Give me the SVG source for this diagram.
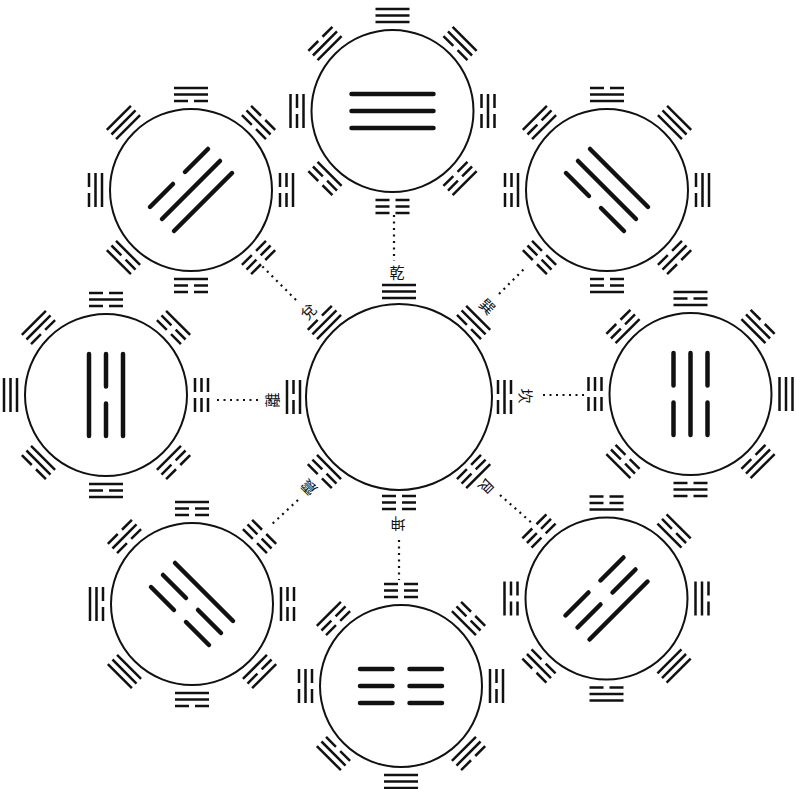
<svg xmlns="http://www.w3.org/2000/svg" xmlns:xlink="http://www.w3.org/1999/xlink" width="796" height="789" viewBox="0 0 796 789">
<style>
.c{fill:none;stroke:#111;stroke-width:2}
.t{fill:none;stroke:#111;stroke-width:2.5}
.b{fill:none;stroke:#111;stroke-width:4.5;stroke-linecap:round}
.d{fill:none;stroke:#111;stroke-width:2.2;stroke-dasharray:2 4.5}
.l{font-family:"Noto Sans CJK TC","Noto Sans CJK SC",sans-serif;font-size:15px;fill:#111;text-anchor:middle;dominant-baseline:central}
</style>
<defs>
<path id="qian" class="t" d="M-17 6.5H17M-17 0H17M-17 -6.5H17"/>
<path id="dui" class="t" d="M-17 6.5H17M-17 0H17M-17 -6.5H-3M3 -6.5H17"/>
<path id="li" class="t" d="M-17 6.5H17M-17 0H-3M3 0H17M-17 -6.5H17"/>
<path id="zhen" class="t" d="M-17 6.5H17M-17 0H-3M3 0H17M-17 -6.5H-3M3 -6.5H17"/>
<path id="xun" class="t" d="M-17 6.5H-3M3 6.5H17M-17 0H17M-17 -6.5H17"/>
<path id="kan" class="t" d="M-17 6.5H-3M3 6.5H17M-17 0H17M-17 -6.5H-3M3 -6.5H17"/>
<path id="gen" class="t" d="M-17 6.5H-3M3 6.5H17M-17 0H-3M3 0H17M-17 -6.5H17"/>
<path id="kun" class="t" d="M-17 6.5H-3M3 6.5H17M-17 0H-3M3 0H17M-17 -6.5H-3M3 -6.5H17"/>
<g id="ring">
<use href="#qian" transform="translate(0 -95.5)"/>
<use href="#xun" transform="rotate(45) translate(0 -95.5)"/>
<use href="#kan" transform="rotate(90) translate(0 -95.5)"/>
<use href="#gen" transform="rotate(135) translate(0 -95.5)"/>
<use href="#kun" transform="rotate(180) translate(0 -95.5)"/>
<use href="#zhen" transform="rotate(225) translate(0 -95.5)"/>
<use href="#li" transform="rotate(270) translate(0 -95.5)"/>
<use href="#dui" transform="rotate(315) translate(0 -95.5)"/>
</g>
</defs>
<rect width="796" height="789" fill="#fff"/>

<g id="connectors">
<line class="d" x1="394" y1="215" x2="394" y2="261"/>
<line class="d" x1="499" y1="294" x2="526" y2="267"/>
<line class="d" x1="543" y1="395" x2="584" y2="395"/>
<line class="d" x1="500" y1="495" x2="533" y2="524"/>
<line class="d" x1="399" y1="540" x2="399" y2="580"/>
<line class="d" x1="298" y1="500" x2="270" y2="526"/>
<line class="d" x1="258" y1="400" x2="213" y2="400"/>
<line class="d" x1="296" y1="300" x2="262" y2="266"/>
</g>

<g id="center">
<circle class="c" cx="399" cy="397" r="93"/>
<g transform="translate(399 397)">
<use href="#qian" transform="translate(0 -105.5)"/>
<use href="#xun" transform="rotate(45) translate(0 -105.5)"/>
<use href="#kan" transform="rotate(90) translate(0 -105.5)"/>
<use href="#gen" transform="rotate(135) translate(0 -105.5)"/>
<use href="#kun" transform="rotate(180) translate(0 -105.5)"/>
<use href="#zhen" transform="rotate(225) translate(0 -105.5)"/>
<use href="#li" transform="rotate(270) translate(0 -105.5)"/>
<use href="#dui" transform="rotate(315) translate(0 -105.5)"/>
</g>
<g id="labels">
<text class="l" transform="translate(397 271)">乾</text>
<text class="l" transform="translate(488 306) rotate(45)">巽</text>
<text class="l" transform="translate(526 396) rotate(90)">坎</text>
<text class="l" transform="translate(487 487) rotate(135)">艮</text>
<text class="l" transform="translate(398 524) rotate(180)">坤</text>
<text class="l" transform="translate(308 488) rotate(225)">震</text>
<text class="l" transform="translate(271 400) rotate(270)">離</text>
<text class="l" transform="translate(308 311) rotate(315)">兌</text>
</g>
</g>

<g id="node-qian">
<circle class="c" cx="392.5" cy="111" r="81"/>
<g transform="translate(392.5 111)">
<use href="#ring"/>
<path class="b" d="M-41 17H41M-41 0H41M-41 -17H41"/>
</g>
</g>

<g id="node-xun">
<circle class="c" cx="607" cy="190" r="81"/>
<g transform="translate(607 190) rotate(45)">
<use href="#ring"/>
<path class="b" d="M-41 17H-8.5M8.5 17H41M-41 0H41M-41 -17H41"/>
</g>
</g>

<g id="node-kan">
<circle class="c" cx="690.5" cy="394" r="81"/>
<g transform="translate(690.5 394) rotate(90)">
<use href="#ring"/>
<path class="b" d="M-41 17H-8.5M8.5 17H41M-41 0H41M-41 -17H-8.5M8.5 -17H41"/>
</g>
</g>

<g id="node-gen">
<circle class="c" cx="606.5" cy="598.5" r="81"/>
<g transform="translate(606.5 598.5) rotate(135)">
<use href="#ring"/>
<path class="b" d="M-41 17H-8.5M8.5 17H41M-41 0H-8.5M8.5 0H41M-41 -17H41"/>
</g>
</g>

<g id="node-kun">
<circle class="c" cx="401" cy="686" r="81"/>
<g transform="translate(401 686) rotate(180)">
<use href="#ring"/>
<path class="b" d="M-41 17H-8.5M8.5 17H41M-41 0H-8.5M8.5 0H41M-41 -17H-8.5M8.5 -17H41"/>
</g>
</g>

<g id="node-zhen">
<circle class="c" cx="192" cy="604" r="81"/>
<g transform="translate(192 604) rotate(225)">
<use href="#ring"/>
<path class="b" d="M-41 17H41M-41 0H-8.5M8.5 0H41M-41 -17H-8.5M8.5 -17H41"/>
</g>
</g>

<g id="node-li">
<circle class="c" cx="106" cy="395" r="81"/>
<g transform="translate(106 395) rotate(270)">
<use href="#ring"/>
<path class="b" d="M-41 17H41M-41 0H-8.5M8.5 0H41M-41 -17H41"/>
</g>
</g>

<g id="node-dui">
<circle class="c" cx="191" cy="190" r="81"/>
<g transform="translate(191 190) rotate(315)">
<use href="#ring"/>
<path class="b" d="M-41 17H41M-41 0H41M-41 -17H-8.5M8.5 -17H41"/>
</g>
</g>
</svg>
